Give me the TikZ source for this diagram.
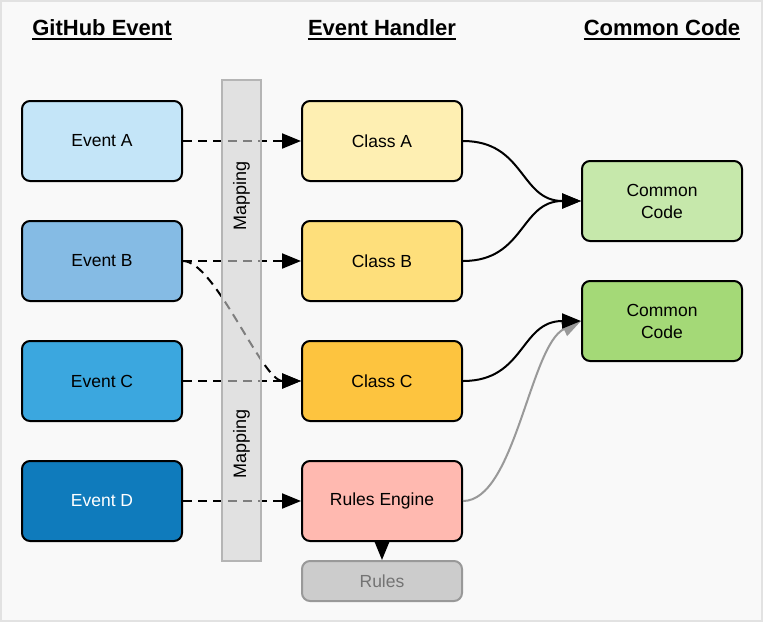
\documentclass[tikz,border=0pt]{standalone}
\usepackage{fontspec}
\setmainfont{Liberation Sans}
\usetikzlibrary{arrows.meta}
\definecolor{bg}{HTML}{F9F9F9}
\definecolor{frame}{HTML}{E2E2E2}
\definecolor{evA}{HTML}{C4E5F8}
\definecolor{evB}{HTML}{85BBE4}
\definecolor{evC}{HTML}{3BA7DF}
\definecolor{evD}{HTML}{0F7BBC}
\definecolor{clA}{HTML}{FEEFB2}
\definecolor{clB}{HTML}{FEDF7B}
\definecolor{clC}{HTML}{FDC43F}
\definecolor{rul}{HTML}{FFB9B0}
\definecolor{ccA}{HTML}{C6E8AB}
\definecolor{ccB}{HTML}{A4D977}
\definecolor{mapfill}{HTML}{D2D2D2}
\definecolor{mapdraw}{HTML}{B5B5B5}
\begin{document}
\begin{tikzpicture}[x=1pt,y=-1pt,
  box/.style={draw=black,line width=2pt,rounded corners=8pt,minimum width=160pt,minimum height=80pt,inner sep=0pt,font=\fontsize{17.5}{22}\selectfont,align=center},
  hdr/.style={inner sep=0pt,font=\bfseries\fontsize{22}{26}\selectfont,anchor=base},
  ul/.style={line width=2.5pt},
  tip/.style={-{Triangle[length=19pt,width=15pt]}},
  dsh/.style={line width=2pt,dash pattern=on 9pt off 6pt,tip},
  sol/.style={line width=2pt,tip},
  maplbl/.style={rotate=90,font=\fontsize{18}{22}\selectfont}]
\useasboundingbox (0,0) rectangle (763,622);
\draw[frame,fill=bg,line width=2pt] (1,1) rectangle (762,621);

% headers
\node[hdr] (h1) at (102,35) {GitHub Event};
\node[hdr] (h2) at (382,35) {Event Handler};
\node[hdr] (h3) at (662,35) {Common Code};
\foreach \h in {h1,h2,h3}{
  \draw[ul] ([yshift=-4pt]\h.base west) -- ([yshift=-4pt]\h.base east);
}

% events
\node[box,fill=evA] (ea) at (102,141) {Event A};
\node[box,fill=evB] (eb) at (102,261) {Event B};
\node[box,fill=evC] (ec) at (102,381) {Event C};
\node[box,fill=evD,text=white] (ed) at (102,501) {Event D};

% handlers
\node[box,fill=clA] (ca) at (382,141) {Class A};
\node[box,fill=clB] (cb) at (382,261) {Class B};
\node[box,fill=clC] (cc) at (382,381) {Class C};
\node[box,fill=rul] (re) at (382,501) {Rules Engine};
\node[box,fill=black!20,draw=black!40,minimum height=40pt,text=black!55] (ru) at (382,581) {Rules};

% common code
\node[box,fill=ccA] (c1) at (662,201) {Common\\Code};
\node[box,fill=ccB] (c2) at (662,321) {Common\\Code};

% dashed mapping arrows
\draw[dsh] (ea.east) -- (ca.west);
\draw[dsh] (eb.east) -- (cb.west);
\draw[dsh] (ec.east) -- (cc.west);
\draw[dsh] (ed.east) -- (re.west);
\draw[dsh] (eb.east) .. controls (215,261) and (262,381) .. (cc.west);

% mapping bar (over the dashed lines)
\draw[draw=mapdraw,fill=mapfill,fill opacity=0.6,line width=2pt] (222,80) rectangle (261,561);
\coordinate (mbt) at (241.5,196);
\coordinate (mbb) at (241.5,444);
\node[maplbl] (m1) at (mbt) {Mapping};
\node[maplbl] (m2) at (mbb) {Mapping};

% solid arrows to common code
\draw[sol] (ca.east) .. controls (525,141) and (520,201) .. (c1.west);
\draw[sol] (cb.east) .. controls (525,261) and (520,201) .. (c1.west);
\draw[sol,draw=black!40,-{Triangle[length=19pt,width=15pt,fill=black!40]}] (re.east) .. controls (515,501) and (530,345) .. (c2.west);
\draw[sol] (cc.east) .. controls (525,381) and (520,321) .. (c2.west);

% rules engine -> rules
\draw[sol] (re.south) -- (ru.north);
\end{tikzpicture}
\end{document}
